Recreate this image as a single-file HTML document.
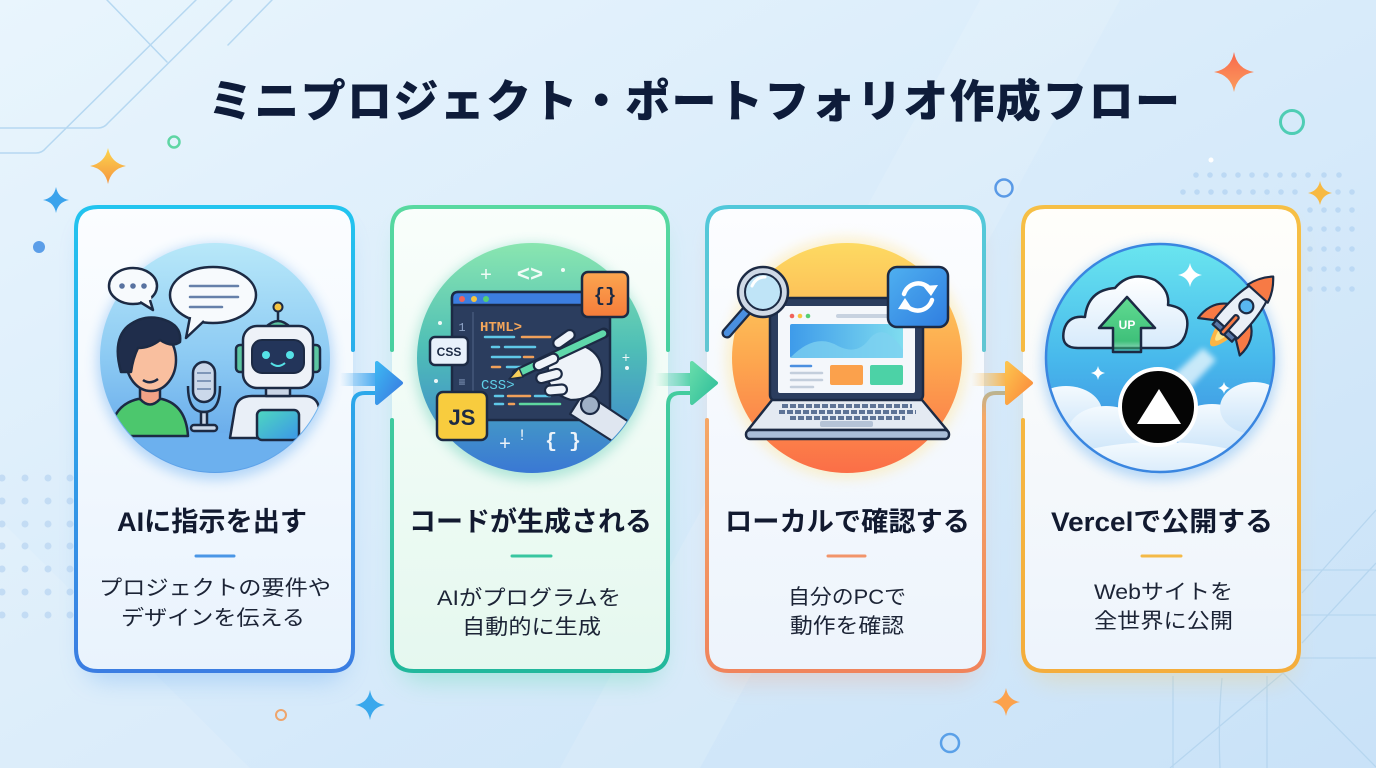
<!DOCTYPE html>
<html><head><meta charset="utf-8">
<style>
html,body{margin:0;padding:0;width:1376px;height:768px;overflow:hidden;background:#dcecfa;}
svg{display:block;}
.jp{font-family:"Liberation Sans","Noto Sans CJK JP",sans-serif;}
.mono{font-family:"Liberation Mono","DejaVu Sans Mono",monospace;}
</style></head>
<body>
<svg width="1376" height="768" viewBox="0 0 1376 768" xmlns="http://www.w3.org/2000/svg">
<defs>
  <linearGradient id="bg" x1="0" y1="0" x2="1" y2="1">
    <stop offset="0" stop-color="#e9f5fd"/><stop offset="0.5" stop-color="#d8ebfa"/><stop offset="1" stop-color="#c9e2f8"/>
  </linearGradient>
  <filter id="b12" x="-30%" y="-30%" width="160%" height="160%"><feGaussianBlur stdDeviation="12"/></filter>
  <filter id="b6" x="-30%" y="-30%" width="160%" height="160%"><feGaussianBlur stdDeviation="6"/></filter>
  <filter id="b3" x="-30%" y="-30%" width="160%" height="160%"><feGaussianBlur stdDeviation="3"/></filter>
  <linearGradient id="c1" gradientUnits="userSpaceOnUse" x1="0" y1="207" x2="0" y2="671"><stop offset="0" stop-color="#22c4ef"/><stop offset="1" stop-color="#3b7de2"/></linearGradient>
  <linearGradient id="c2" gradientUnits="userSpaceOnUse" x1="0" y1="207" x2="0" y2="671"><stop offset="0" stop-color="#58d9a0"/><stop offset="1" stop-color="#22b89c"/></linearGradient>
  <linearGradient id="c3" gradientUnits="userSpaceOnUse" x1="0" y1="207" x2="0" y2="671"><stop offset="0" stop-color="#52c8da"/><stop offset="0.32" stop-color="#62c6d2"/><stop offset="0.45" stop-color="#f5a866"/><stop offset="1" stop-color="#f0845c"/></linearGradient>
  <linearGradient id="c4" gradientUnits="userSpaceOnUse" x1="0" y1="207" x2="0" y2="671"><stop offset="0" stop-color="#f6bf45"/><stop offset="1" stop-color="#f4ad3c"/></linearGradient>
  <linearGradient id="f1" x1="0" y1="0" x2="0" y2="1"><stop offset="0" stop-color="#fbfdff"/><stop offset="1" stop-color="#e9f3fd"/></linearGradient>
  <linearGradient id="f2" x1="0" y1="0" x2="0" y2="1"><stop offset="0" stop-color="#f9fefb"/><stop offset="1" stop-color="#e5f8ef"/></linearGradient>
  <linearGradient id="f3" x1="0" y1="0" x2="0" y2="1"><stop offset="0" stop-color="#fcfdff"/><stop offset="1" stop-color="#edf4fc"/></linearGradient>
  <linearGradient id="f4" x1="0" y1="0" x2="0" y2="1"><stop offset="0" stop-color="#fffefa"/><stop offset="1" stop-color="#edf4fc"/></linearGradient>
  <linearGradient id="a1" x1="0" y1="0" x2="1" y2="1"><stop offset="0" stop-color="#3cb6f2"/><stop offset="1" stop-color="#3a78e0"/></linearGradient>
  <linearGradient id="a2" x1="0" y1="0" x2="1" y2="1"><stop offset="0" stop-color="#66dcaa"/><stop offset="1" stop-color="#2dbd9a"/></linearGradient>
  <linearGradient id="a3" x1="0" y1="0" x2="1" y2="1"><stop offset="0" stop-color="#fcc34e"/><stop offset="1" stop-color="#fb873a"/></linearGradient>
  <linearGradient id="s1" x1="0" y1="0" x2="1" y2="0"><stop offset="0" stop-color="#48aaf0" stop-opacity="0"/><stop offset="1" stop-color="#45a8f0"/></linearGradient>
  <linearGradient id="s2" x1="0" y1="0" x2="1" y2="0"><stop offset="0" stop-color="#5ed8ab" stop-opacity="0"/><stop offset="1" stop-color="#4fd0a6"/></linearGradient>
  <linearGradient id="s3" x1="0" y1="0" x2="1" y2="0"><stop offset="0" stop-color="#fcc04c" stop-opacity="0"/><stop offset="1" stop-color="#fbb046"/></linearGradient>
  <linearGradient id="g1" x1="0" y1="0" x2="0" y2="1"><stop offset="0" stop-color="#b8e8f9"/><stop offset="0.5" stop-color="#8ccaf3"/><stop offset="1" stop-color="#5a9fe8"/></linearGradient>
  <linearGradient id="g2" x1="0" y1="0" x2="0" y2="1"><stop offset="0" stop-color="#8ae6b0"/><stop offset="0.45" stop-color="#4fbfb6"/><stop offset="1" stop-color="#3a78d4"/></linearGradient>
  <linearGradient id="g3" x1="0" y1="0" x2="0" y2="1"><stop offset="0" stop-color="#fdda62"/><stop offset="0.5" stop-color="#fda84f"/><stop offset="1" stop-color="#fb6e47"/></linearGradient>
  <linearGradient id="g4" x1="0" y1="0" x2="0" y2="1"><stop offset="0" stop-color="#6ae6ef"/><stop offset="0.5" stop-color="#48b9ec"/><stop offset="1" stop-color="#3a82de"/></linearGradient>
  <linearGradient id="teal" x1="0" y1="0" x2="1" y2="1"><stop offset="0" stop-color="#4ed8bf"/><stop offset="1" stop-color="#3b95e8"/></linearGradient>
  <linearGradient id="orng" x1="0" y1="0" x2="0" y2="1"><stop offset="0" stop-color="#fca650"/><stop offset="1" stop-color="#f57c3a"/></linearGradient>
  <linearGradient id="hero" x1="0" y1="0" x2="1" y2="0"><stop offset="0" stop-color="#3e9bea"/><stop offset="1" stop-color="#7fdcef"/></linearGradient>
  <linearGradient id="sync" x1="0" y1="0" x2="1" y2="1"><stop offset="0" stop-color="#4fb0f0"/><stop offset="1" stop-color="#2f7de0"/></linearGradient>
  <linearGradient id="cloud" x1="0" y1="0" x2="0" y2="1"><stop offset="0" stop-color="#ffffff"/><stop offset="1" stop-color="#d6eafb"/></linearGradient>
  <linearGradient id="cloud2" x1="0" y1="0" x2="0" y2="1"><stop offset="0" stop-color="#f4fafe"/><stop offset="1" stop-color="#c9e3f9"/></linearGradient>
  <linearGradient id="uparr" x1="0" y1="0" x2="0" y2="1"><stop offset="0" stop-color="#62dc92"/><stop offset="0.8" stop-color="#3fc07a"/><stop offset="1" stop-color="#3fc07a" stop-opacity="0.3"/></linearGradient>
  <linearGradient id="starO" x1="0" y1="0" x2="0" y2="1"><stop offset="0" stop-color="#fcd54e"/><stop offset="1" stop-color="#f5953f"/></linearGradient>
  <linearGradient id="starR" x1="0" y1="0" x2="0" y2="1"><stop offset="0" stop-color="#f8684d"/><stop offset="1" stop-color="#fb9c5c"/></linearGradient>
  <clipPath id="cp1"><circle cx="215" cy="358" r="114"/></clipPath>
  <clipPath id="cp2"><circle cx="532" cy="358" r="114"/></clipPath>
  <clipPath id="cp4"><circle cx="1160" cy="358" r="114"/></clipPath>
</defs>

<rect x="0" y="0" width="1376" height="768" fill="url(#bg)"/>
<polygon points="560,768 980,0 1120,0 700,768" fill="#ffffff" opacity="0.12"/>
<polygon points="0,520 0,768 250,768" fill="#ffffff" opacity="0.12"/>
<g fill="none" stroke="#b6d8f1" stroke-width="1.5" stroke-linecap="round" stroke-linejoin="round">
  <path d="M0,128 L98,128 Q104,128 108,123 L232,0"/>
  <path d="M0,153 L36,153 Q42,153 46,148 L196,0"/>
  <path d="M107,0 L167,62"/>
  <path d="M272,0 L228,45"/>
</g>
<g fill="none" stroke="#b3d4ee" stroke-width="1.3" opacity="0.85">
  <path d="M1300,570 L1376,570"/><path d="M1300,615 L1376,615"/><path d="M1300,658 L1376,658"/>
  <path d="M1302,593 L1376,510"/><path d="M1302,643 L1376,563"/>
  <path d="M1283,673 L1376,767"/><path d="M1283,673 L1170,768"/>
  <path d="M1173,676 L1173,768"/><path d="M1222,678 Q1218,720 1220,768"/><path d="M1267,676 L1267,768"/>
</g>
<g fill="#c3dcf4">
    <circle cx="2" cy="478" r="3.5"/><circle cx="25" cy="478" r="3.5"/><circle cx="48" cy="478" r="3.5"/><circle cx="70" cy="478" r="3.5"/>
    <circle cx="2" cy="501" r="3.5"/><circle cx="25" cy="501" r="3.5"/><circle cx="48" cy="501" r="3.5"/><circle cx="70" cy="501" r="3.5"/>
    <circle cx="2" cy="524" r="3.5"/><circle cx="25" cy="524" r="3.5"/><circle cx="48" cy="524" r="3.5"/><circle cx="70" cy="524" r="3.5"/>
    <circle cx="2" cy="546" r="3.5"/><circle cx="25" cy="546" r="3.5"/><circle cx="48" cy="546" r="3.5"/><circle cx="70" cy="546" r="3.5"/>
    <circle cx="2" cy="569" r="3.5"/><circle cx="25" cy="569" r="3.5"/><circle cx="48" cy="569" r="3.5"/><circle cx="70" cy="569" r="3.5"/>
    <circle cx="2" cy="592" r="3.5"/><circle cx="25" cy="592" r="3.5"/><circle cx="48" cy="592" r="3.5"/><circle cx="70" cy="592" r="3.5"/>
    <circle cx="2" cy="615" r="3.5"/><circle cx="25" cy="615" r="3.5"/><circle cx="48" cy="615" r="3.5"/><circle cx="70" cy="615" r="3.5"/>
</g>
<g fill="#bcd9f4">
  <circle cx="1196" cy="175" r="2.8"/><circle cx="1210" cy="175" r="2.8"/><circle cx="1224" cy="175" r="2.8"/><circle cx="1238" cy="175" r="2.8"/><circle cx="1252" cy="175" r="2.8"/><circle cx="1266" cy="175" r="2.8"/><circle cx="1280" cy="175" r="2.8"/><circle cx="1294" cy="175" r="2.8"/><circle cx="1308" cy="175" r="2.8"/><circle cx="1324" cy="175" r="2.8"/><circle cx="1339" cy="175" r="2.8"/>
  <circle cx="1183" cy="192" r="2.8"/><circle cx="1197" cy="192" r="2.8"/><circle cx="1211" cy="192" r="2.8"/><circle cx="1225" cy="192" r="2.8"/><circle cx="1239" cy="192" r="2.8"/><circle cx="1253" cy="192" r="2.8"/><circle cx="1267" cy="192" r="2.8"/><circle cx="1281" cy="192" r="2.8"/><circle cx="1295" cy="192" r="2.8"/><circle cx="1338" cy="192" r="2.8"/><circle cx="1352" cy="192" r="2.8"/>
  <circle cx="1310" cy="210" r="2.8"/><circle cx="1324" cy="210" r="2.8"/><circle cx="1338" cy="210" r="2.8"/><circle cx="1352" cy="210" r="2.8"/>
  <circle cx="1310" cy="229" r="2.8"/><circle cx="1324" cy="229" r="2.8"/><circle cx="1338" cy="229" r="2.8"/><circle cx="1352" cy="229" r="2.8"/>
  <circle cx="1310" cy="249" r="2.8"/><circle cx="1324" cy="249" r="2.8"/><circle cx="1338" cy="249" r="2.8"/><circle cx="1352" cy="249" r="2.8"/>
  <circle cx="1310" cy="269" r="2.8"/><circle cx="1324" cy="269" r="2.8"/><circle cx="1338" cy="269" r="2.8"/><circle cx="1352" cy="269" r="2.8"/>
  <circle cx="1310" cy="289" r="2.8"/><circle cx="1324" cy="289" r="2.8"/><circle cx="1338" cy="289" r="2.8"/><circle cx="1352" cy="289" r="2.8"/>
</g>
<path d="M108,148 Q111,163 126,166 Q111,169 108,184 Q105,169 90,166 Q105,163 108,148 Z" fill="url(#starO)"/>
<path d="M56,187 Q58,198 69,200 Q58,202 56,213 Q54,202 43,200 Q54,198 56,187 Z" fill="#3ba3ec"/>
<circle cx="39" cy="247" r="6" fill="#5b9ee8"/>
<circle cx="174" cy="142" r="5.5" fill="none" stroke="#5fd6a4" stroke-width="2.5"/>
<path d="M1234,52 Q1237,69 1254,72 Q1237,75 1234,92 Q1231,75 1214,72 Q1231,69 1234,52 Z" fill="url(#starR)"/>
<circle cx="1292" cy="122" r="11.5" fill="none" stroke="#4fcdb4" stroke-width="3"/>
<circle cx="1004" cy="188" r="8.5" fill="none" stroke="#5a9ae6" stroke-width="2.5"/>
<circle cx="1211" cy="160" r="2.5" fill="#ffffff"/>
<path d="M1320,181 Q1322,191 1332,193 Q1322,195 1320,205 Q1318,195 1308,193 Q1318,191 1320,181 Z" fill="#f7b942"/>
<path d="M370,690 Q372,703 385,705 Q372,707 370,720 Q368,707 355,705 Q368,703 370,690 Z" fill="#3aa8ec"/>
<path d="M1006,688 Q1008,700 1020,702 Q1008,704 1006,716 Q1004,704 992,702 Q1004,700 1006,688 Z" fill="#fca24d"/>
<circle cx="281" cy="715" r="5" fill="none" stroke="#eea56c" stroke-width="2"/>
<circle cx="950" cy="743" r="9" fill="none" stroke="#5aa0e8" stroke-width="2.5"/>

<text class="jp" x="694" y="117" text-anchor="middle" font-size="45" font-weight="900" fill="#0e1c3a" textLength="972" lengthAdjust="spacing">ミニプロジェクト・ポートフォリオ作成フロー</text>

<rect x="84" y="225" width="262" height="456" rx="22" fill="#5fa6f2" opacity="0.35" filter="url(#b12)"/>
<rect x="400" y="225" width="262" height="456" rx="22" fill="#4fd8a6" opacity="0.35" filter="url(#b12)"/>
<rect x="715" y="225" width="262" height="456" rx="22" fill="#f4a07c" opacity="0.32" filter="url(#b12)"/>
<rect x="1031" y="225" width="262" height="456" rx="22" fill="#f5c86a" opacity="0.32" filter="url(#b12)"/>

<rect x="76" y="207" width="277" height="464" rx="22" fill="url(#f1)"/>
<rect x="392" y="207" width="276" height="464" rx="22" fill="url(#f2)"/>
<rect x="707" y="207" width="277" height="464" rx="22" fill="url(#f3)"/>
<rect x="1023" y="207" width="276" height="464" rx="22" fill="url(#f4)"/>

<rect x="340" y="373" width="38" height="13" fill="url(#s1)"/>
<rect x="655" y="373" width="38" height="13" fill="url(#s2)"/>
<rect x="971" y="373" width="38" height="13" fill="url(#s3)"/>

<g fill="none" stroke-width="4" stroke-linecap="round">
  <path stroke="url(#c1)" d="M353,350 L353,229 Q353,207 331,207 L98,207 Q76,207 76,229 L76,649 Q76,671 98,671 L331,671 Q353,671 353,649 L353,405 Q353,393 365,393 L378,393"/>
  <path stroke="url(#c2)" d="M392,350 L392,229 Q392,207 414,207 L646,207 Q668,207 668,229 L668,350"/>
  <path stroke="url(#c2)" d="M392,420 L392,649 Q392,671 414,671 L646,671 Q668,671 668,649 L668,405 Q668,393 680,393 L693,393"/>
  <path stroke="url(#c3)" d="M707,350 L707,229 Q707,207 729,207 L962,207 Q984,207 984,229 L984,350"/>
  <path stroke="url(#c3)" d="M707,420 L707,649 Q707,671 729,671 L962,671 Q984,671 984,649 L984,405 Q984,393 996,393 L1008,393"/>
  <path stroke="url(#c4)" d="M1023,350 L1023,229 Q1023,207 1045,207 L1277,207 Q1299,207 1299,229 L1299,649 Q1299,671 1277,671 L1045,671 Q1023,671 1023,649 L1023,420"/>
</g>
<polygon points="377,363 401,383 377,403" fill="url(#a1)" stroke="url(#a1)" stroke-width="4" stroke-linejoin="round"/>
<polygon points="692,363 716,383 692,403" fill="url(#a2)" stroke="url(#a2)" stroke-width="4" stroke-linejoin="round"/>
<polygon points="1007,363 1031,383 1007,403" fill="url(#a3)" stroke="url(#a3)" stroke-width="4" stroke-linejoin="round"/>

<!-- CIRCLE 1 -->
<circle cx="215" cy="362" r="118" fill="#6aaef0" opacity="0.45" filter="url(#b6)"/>
<circle cx="215" cy="358" r="115" fill="url(#g1)"/>
<g clip-path="url(#cp1)" stroke="#1c2a44" stroke-width="2.5" stroke-linejoin="round">
  <rect x="90" y="433" width="260" height="60" fill="#6cb0ee" stroke="none"/>
  <path d="M110,436 Q112,405 138,399 L162,399 Q186,405 188,436 Z" fill="#4cc76d"/>
  <path d="M140,384 L140,399 Q150,410 160,399 L160,384 Z" fill="#f2a286"/>
  <circle cx="127" cy="364" r="6" fill="#f4a98a"/>
  <ellipse cx="151" cy="360" rx="25" ry="31" fill="#f9bf9f"/>
  <path d="M121,372 Q112,340 128,326 Q145,313 165,320 Q182,326 180,342 Q172,348 160,340 Q150,348 138,348 Q133,358 131,372 Z" fill="#1f2d4b"/>
  <path d="M143,380 Q150,385 158,379" fill="none"/>
  <path d="M188,386 Q188,412 204,412 Q220,412 220,386" fill="none"/>
  <rect x="201" y="412" width="6" height="14" fill="#cbd8ea"/>
  <rect x="191" y="425" width="26" height="6" rx="3" fill="#cbd8ea"/>
  <rect x="193" y="362" width="22" height="40" rx="11" fill="#cbd8ea"/>
  <g stroke="#7f96b8" stroke-width="2"><line x1="197" y1="373" x2="211" y2="373"/><line x1="197" y1="381" x2="211" y2="381"/><line x1="197" y1="389" x2="211" y2="389"/></g>
  <path d="M230,438 L235,408 Q238,396 252,396 L304,396 Q317,396 319,408 L324,438 Z" fill="#e9eff7"/>
  <rect x="257" y="410" width="42" height="30" rx="5" fill="url(#teal)"/>
  <rect x="266" y="386" width="24" height="10" fill="#c9d5e6"/>
  <line x1="278" y1="328" x2="278" y2="311"/>
  <circle cx="278" cy="307" r="4.5" fill="#f5c542" stroke-width="2"/>
  <path d="M265,328 Q278,314 291,328 Z" fill="#5cc6a2"/>
  <rect x="236" y="345" width="10" height="27" rx="4" fill="#5cc6a2"/>
  <rect x="310" y="345" width="10" height="27" rx="4" fill="#5cc6a2"/>
  <rect x="243" y="326" width="70" height="62" rx="14" fill="#eef2f8"/>
  <rect x="252" y="340" width="52" height="33" rx="10" fill="#23355a" stroke-width="2"/>
  <circle cx="266" cy="355" r="4" fill="#55e1e6" stroke="none"/>
  <circle cx="290" cy="355" r="4" fill="#55e1e6" stroke="none"/>
  <path d="M271,363 Q278,369 285,363" fill="none" stroke="#55e1e6" stroke-width="2"/>
</g>
<g stroke="#1c2a44" stroke-width="2.5" stroke-linejoin="round">
  <ellipse cx="133" cy="286" rx="24" ry="18" fill="#f7fafd"/>
  <polygon points="139,300 153,310 151,296" fill="#f7fafd" stroke="none"/>
  <polyline points="140,302 153,310 150,300" fill="none"/>
  <ellipse cx="213" cy="295" rx="43" ry="28" fill="#f7fafd"/>
  <polygon points="189,316 186,338 204,320" fill="#f7fafd" stroke="none"/>
  <polyline points="190,317 186,338 204,321" fill="none"/>
</g>
<g fill="#5872a0"><circle cx="122" cy="286" r="2.8"/><circle cx="133" cy="286" r="2.8"/><circle cx="144" cy="286" r="2.8"/></g>
<g stroke="#6680aa" stroke-width="2.5" stroke-linecap="round"><line x1="190" y1="286" x2="238" y2="286"/><line x1="190" y1="297" x2="238" y2="297"/><line x1="190" y1="307" x2="222" y2="307"/></g>

<!-- CIRCLE 2 -->
<circle cx="532" cy="362" r="118" fill="#58c8b0" opacity="0.4" filter="url(#b6)"/>
<circle cx="532" cy="358" r="115" fill="url(#g2)"/>
<g fill="#ffffff" opacity="0.9">
  <text class="mono" x="530" y="281" text-anchor="middle" font-size="22" font-weight="700">&lt;&gt;</text>
  <text class="mono" x="486" y="281" text-anchor="middle" font-size="20">+</text>
  <circle cx="563" cy="270" r="2"/>
  <circle cx="440" cy="323" r="2"/><circle cx="436" cy="381" r="2"/><circle cx="627" cy="368" r="2"/>
  <text class="mono" x="626" y="362" text-anchor="middle" font-size="14">+</text>
  <text class="mono" x="505" y="450" text-anchor="middle" font-size="20">+</text>
  <text class="mono" x="522" y="440" text-anchor="middle" font-size="16">!</text>
  <text class="mono" x="563" y="447" text-anchor="middle" font-size="20" font-weight="700">{ }</text>
</g>
<g stroke="#1c2a44" stroke-width="2.5" stroke-linejoin="round">
  <rect x="452" y="292" width="158" height="128" rx="6" fill="#2b3d5e"/>
  <path d="M452,305 L452,298 Q452,292 458,292 L604,292 Q610,292 610,298 L610,305 Z" fill="#3c7ee0"/>
</g>
<circle cx="462" cy="299" r="3" fill="#f0625a"/><circle cx="474" cy="299" r="3" fill="#f7c53f"/><circle cx="486" cy="299" r="3" fill="#55cf72"/>
<line x1="473" y1="312" x2="473" y2="412" stroke="#44587a" stroke-width="1.5"/>
<text class="mono" x="462" y="331" text-anchor="middle" font-size="12" fill="#8ea4c6">1</text>
<text class="mono" x="462" y="386" text-anchor="middle" font-size="12" fill="#8ea4c6">≡</text>
<text class="mono" x="480" y="331" font-size="14" font-weight="700" fill="#f4a65a">HTML&gt;</text>
<text class="mono" x="481" y="389" font-size="14" fill="#5fd0e8">CSS&gt;</text>
<g stroke-width="2.5" stroke-linecap="round">
  <line x1="485" y1="337" x2="514" y2="337" stroke="#5fc8e8"/><line x1="522" y1="337" x2="550" y2="337" stroke="#f0a05a"/>
  <line x1="492" y1="347" x2="499" y2="347" stroke="#5fc8e8"/><line x1="505" y1="347" x2="535" y2="347" stroke="#5fc8e8"/>
  <line x1="492" y1="357" x2="520" y2="357" stroke="#5fc8e8"/><line x1="524" y1="357" x2="533" y2="357" stroke="#f0a05a"/>
  <line x1="492" y1="367" x2="500" y2="367" stroke="#f0a05a"/><line x1="507" y1="367" x2="528" y2="367" stroke="#5fc8e8"/>
  <line x1="495" y1="396" x2="503" y2="396" stroke="#5fc8e8"/><line x1="508" y1="396" x2="530" y2="396" stroke="#f0a05a"/><line x1="535" y1="396" x2="550" y2="396" stroke="#5fc8e8"/>
  <line x1="495" y1="404" x2="503" y2="404" stroke="#5fc8e8"/><line x1="509" y1="404" x2="514" y2="404" stroke="#f0a05a"/><line x1="520" y1="404" x2="560" y2="404" stroke="#5ed8a0"/>
</g>
<g stroke="#1c2a44" stroke-width="2.5" stroke-linejoin="round">
  <rect x="582" y="272" width="46" height="45" rx="6" fill="url(#orng)"/>
  <rect x="430" y="337" width="38" height="28" rx="5" fill="#e8f1fb"/>
  <rect x="437" y="392" width="50" height="48" rx="6" fill="#f8cc3e"/>
</g>
<text class="mono" x="605" y="301" text-anchor="middle" font-size="19" font-weight="700" fill="#1c2a44">{}</text>
<text class="jp" x="449" y="356" text-anchor="middle" font-size="12" font-weight="700" fill="#1c2a44">CSS</text>
<text class="jp" x="462" y="425" text-anchor="middle" font-size="22" font-weight="700" fill="#1c2a44">JS</text>
<g clip-path="url(#cp2)" stroke="#1c2a44" stroke-width="2.2" stroke-linejoin="round">
  <path d="M584,392 L632,424 L620,446 L570,414 Z" fill="#dfe6f0"/>
  <circle cx="590" cy="405" r="9" fill="#9fb0c6"/>
</g>
<g stroke="#1c2a44" stroke-width="2.2" stroke-linejoin="round">
  <path d="M548,362 Q562,342 586,347 Q606,357 601,381 Q593,400 571,400 Q553,395 548,380 Z" fill="#eef3f9"/>
  <line x1="517" y1="374" x2="604" y2="333" stroke="#1c2a44" stroke-width="11" stroke-linecap="round"/>
  <line x1="518" y1="373.5" x2="603" y2="333.5" stroke="#5fd8aa" stroke-width="6.5" stroke-linecap="round"/>
  <polygon points="509,379 519,368 523,377" fill="#f7cf5a" stroke-width="1.5"/>
  <rect x="552" y="334" width="24" height="10" rx="5" fill="#eef3f9" transform="rotate(-35 564 339)"/>
  <rect x="533" y="357" width="26" height="10" rx="5" fill="#eef3f9" transform="rotate(-25 546 362)"/>
  <rect x="536" y="371" width="26" height="10" rx="5" fill="#eef3f9" transform="rotate(-15 549 376)"/>
  <rect x="545" y="385" width="22" height="10" rx="5" fill="#eef3f9" transform="rotate(-5 556 390)"/>
</g>

<!-- CIRCLE 3 -->
<circle cx="847" cy="358" r="121" fill="#fde6a0" opacity="0.5" filter="url(#b6)"/>
<circle cx="847" cy="358" r="115" fill="url(#g3)"/>
<g stroke="#1c2a44" stroke-width="2.5" stroke-linejoin="round">
  <rect x="770" y="298" width="153" height="103" rx="6" fill="#2b3d5e"/>
  <rect x="778" y="306" width="137" height="87" rx="2" fill="#f4f7fb" stroke="none"/>
  <polygon points="772,400 922,400 947,430 748,430" fill="#e4eaf2"/>
  <rect x="746" y="430" width="203" height="9" rx="4" fill="#a9bdd8"/>
</g>
<circle cx="792" cy="316" r="2.3" fill="#f0625a"/><circle cx="800" cy="316" r="2.3" fill="#f7c53f"/><circle cx="808" cy="316" r="2.3" fill="#55cf72"/>
<rect x="836" y="314" width="57" height="4" rx="2" fill="#c7d2e0"/>
<rect x="790" y="324" width="113" height="34" rx="2" fill="url(#hero)"/>
<path d="M790,358 Q815,332 838,346 Q858,356 870,338 Q885,322 903,350 L903,358 Z" fill="#7fd1f0" opacity="0.75"/>
<g stroke-linecap="round" stroke-width="2.5">
  <line x1="791" y1="366" x2="811" y2="366" stroke="#4b8fe0"/>
  <line x1="791" y1="373" x2="822" y2="373" stroke="#c3cedc"/>
  <line x1="791" y1="380" x2="822" y2="380" stroke="#c3cedc"/>
  <line x1="791" y1="387" x2="813" y2="387" stroke="#c3cedc"/>
</g>
<rect x="830" y="365" width="33" height="20" rx="2" fill="#fba14c"/>
<rect x="870" y="365" width="33" height="20" rx="2" fill="#4cd2a6"/>
<g stroke="#5d7396" stroke-width="4" stroke-dasharray="6 2">
  <line x1="782" y1="406" x2="912" y2="406"/><line x1="779" y1="412" x2="916" y2="412"/><line x1="790" y1="418" x2="905" y2="418"/>
</g>
<rect x="820" y="421" width="53" height="6" rx="2" fill="#b5c3d6"/>
<line x1="748" y1="309" x2="727" y2="333" stroke="#1c2a44" stroke-width="11" stroke-linecap="round"/>
<line x1="748" y1="309" x2="727" y2="333" stroke="#4a8fe0" stroke-width="6.5" stroke-linecap="round"/>
<circle cx="763" cy="292" r="25" fill="#cfd9e6" stroke="#1c2a44" stroke-width="2.5"/>
<circle cx="763" cy="292" r="18" fill="#bfe4f7" stroke="#1c2a44" stroke-width="2"/>
<path d="M752,286 Q756,277 765,277" fill="none" stroke="#ffffff" stroke-width="3" stroke-linecap="round"/>
<rect x="888" y="267" width="60" height="60" rx="9" fill="url(#sync)" stroke="#1c2a44" stroke-width="2.5"/>
<g fill="none" stroke="#ffffff" stroke-width="4.5" stroke-linecap="round">
  <path d="M904,294 A15 15 0 0 1 930,289"/>
  <path d="M932,300 A15 15 0 0 1 906,305"/>
</g>
<polygon points="923,286 938,285 931,296" fill="#ffffff"/>
<polygon points="898,309 913,310 905,298" fill="#ffffff"/>

<!-- CIRCLE 4 -->
<circle cx="1160" cy="362" r="118" fill="#5aa8f0" opacity="0.4" filter="url(#b6)"/>
<circle cx="1160" cy="358" r="115" fill="url(#g4)"/>
<g clip-path="url(#cp4)">
  <polygon points="1168,380 1203,348 1216,360 1186,392" fill="#ffffff" opacity="0.7" filter="url(#b3)"/>
  <g fill="url(#cloud2)">
    <ellipse cx="1066" cy="412" rx="36" ry="26"/>
    <ellipse cx="1106" cy="432" rx="38" ry="26"/>
    <ellipse cx="1212" cy="430" rx="38" ry="26"/>
    <ellipse cx="1254" cy="408" rx="34" ry="26"/>
    <ellipse cx="1160" cy="468" rx="100" ry="26"/>
  </g>
</g>
<circle cx="1160" cy="358" r="114" fill="none" stroke="#3a86e0" stroke-width="2.5"/>
<g fill="#ffffff">
  <path d="M1190,263 Q1192,273 1202,275 Q1192,277 1190,287 Q1188,277 1178,275 Q1188,273 1190,263 Z"/>
  <path d="M1098,366 Q1099,372 1105,373 Q1099,374 1098,380 Q1097,374 1091,373 Q1097,372 1098,366 Z"/>
  <path d="M1224,382 Q1225,387 1230,388 Q1225,389 1224,394 Q1223,389 1218,388 Q1223,387 1224,382 Z"/>
</g>
<path d="M1078,348 Q1060,348 1064,330 Q1068,315 1085,317 Q1088,290 1115,288 Q1130,270 1155,280 Q1170,290 1168,305 Q1190,308 1187,328 Q1184,348 1165,348 Z" fill="url(#cloud)" stroke="#1c2a44" stroke-width="2.5" stroke-linejoin="round"/>
<path d="M1127,297 L1155,328 L1141,328 L1141,352 L1113,352 L1113,328 L1099,328 Z" fill="url(#uparr)" stroke="#1c2a44" stroke-width="2.5" stroke-linejoin="round"/>
<text class="jp" x="1127" y="329" text-anchor="middle" font-size="12" font-weight="700" fill="#ffffff">UP</text>
<g transform="translate(1243,310) rotate(42)" stroke="#1c2a44" stroke-width="2.2" stroke-linejoin="round">
  <path d="M-9,30 Q0,66 9,30 Z" fill="#fcb544" stroke="none"/>
  <path d="M-5,30 Q0,52 5,30 Z" fill="#fde68a" stroke="none"/>
  <path d="M-13,4 Q-30,14 -28,36 L-12,25 Z" fill="#f77a45"/>
  <path d="M13,4 Q30,14 28,36 L12,25 Z" fill="#f77a45"/>
  <path d="M0,-45 Q18,-25 15,25 L-15,25 Q-18,-25 0,-45 Z" fill="#e9eff7"/>
  <path d="M0,-45 Q10,-35 13.5,-22 L-13.5,-22 Q-10,-35 0,-45 Z" fill="#f77a45"/>
  <circle cx="0" cy="-5" r="7" fill="#58b6f0"/>
  <rect x="-13" y="25" width="26" height="6" fill="#5877a8"/>
  <rect x="-2.5" y="8" width="5" height="24" rx="2" fill="#f77a45"/>
</g>
<circle cx="1158" cy="407" r="38" fill="#050505" stroke="#ffffff" stroke-width="4"/>
<polygon points="1159,389 1137,424 1181,424" fill="#ffffff"/>

<g class="jp" font-size="27" font-weight="700" fill="#121a30" text-anchor="middle">
  <text x="212" y="531" textLength="190" lengthAdjust="spacingAndGlyphs">AIに指示を出す</text>
  <text x="530.5" y="531" textLength="243" lengthAdjust="spacingAndGlyphs">コードが生成される</text>
  <text x="847.5" y="531" textLength="245" lengthAdjust="spacingAndGlyphs">ローカルで確認する</text>
  <text x="1162" y="531" textLength="222" lengthAdjust="spacingAndGlyphs">Vercelで公開する</text>
</g>
<g stroke-width="3" stroke-linecap="round">
  <line x1="196" y1="556" x2="234" y2="556" stroke="#4a96e6"/>
  <line x1="512" y1="556" x2="551" y2="556" stroke="#38c6a0"/>
  <line x1="828" y1="556" x2="865" y2="556" stroke="#f2946a"/>
  <line x1="1142" y1="556" x2="1181" y2="556" stroke="#f4b947"/>
</g>
<g class="jp" font-size="21" font-weight="400" fill="#1c2436" text-anchor="middle">
  <text x="215" y="595" textLength="232" lengthAdjust="spacingAndGlyphs">プロジェクトの要件や</text>
  <text x="213" y="625" textLength="184" lengthAdjust="spacingAndGlyphs">デザインを伝える</text>
  <text x="529" y="605" textLength="184" lengthAdjust="spacingAndGlyphs">AIがプログラムを</text>
  <text x="531.5" y="634" textLength="139" lengthAdjust="spacingAndGlyphs">自動的に生成</text>
  <text x="847" y="604" textLength="118" lengthAdjust="spacingAndGlyphs">自分のPCで</text>
  <text x="847" y="633" textLength="114" lengthAdjust="spacingAndGlyphs">動作を確認</text>
  <text x="1163.5" y="599" textLength="139" lengthAdjust="spacingAndGlyphs">Webサイトを</text>
  <text x="1163.5" y="628" textLength="139" lengthAdjust="spacingAndGlyphs">全世界に公開</text>
</g>
</svg>
</body></html>
